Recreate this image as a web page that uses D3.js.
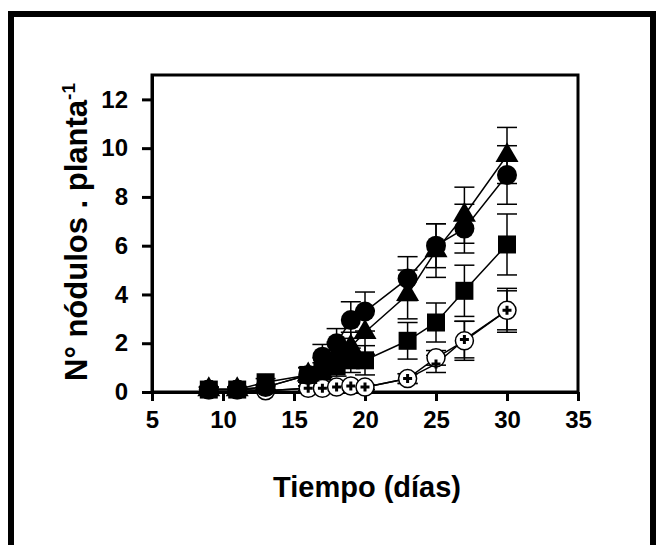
<!DOCTYPE html>
<html>
<head>
<meta charset="utf-8">
<script src="https://cdn.jsdelivr.net/npm/d3@7"></script>
<style>
  body { margin: 0; background: #fff; }
  svg { display: block; font-family: "Liberation Sans", Arial, sans-serif; }
</style>
</head>
<body>
<svg width="662" height="545"></svg>
<script>
// days of sampling
var days = [9, 11, 13, 16, 17, 18, 19, 20, 23, 25, 27, 30];

// series (mean and error bar half-length)
var circleMean = [0.1, 0.1, 0.2, 0.7, 1.45, 2.0, 2.95, 3.3, 4.65, 6.0, 6.7, 8.9];
var circleErr = [0.1, 0.1, 0.1, 0.3, 0.5, 0.6, 0.75, 0.8, 0.9, 0.9, 1.0, 1.2];
var triangleMean = [0.1, 0.1, 0.2, 0.7, 1.0, 1.55, 1.85, 2.45, 4.0, 5.8, 7.25, 9.7];
var triangleErr = [0.1, 0.1, 0.1, 0.3, 0.4, 0.5, 0.6, 0.9, 1.0, 1.1, 1.15, 1.15];
var squareMean = [0.1, 0.1, 0.4, 0.7, 0.85, 1.05, 1.3, 1.3, 2.1, 2.85, 4.15, 6.05];
var squareErr = [0.1, 0.1, 0.15, 0.3, 0.35, 0.4, 0.5, 0.6, 0.75, 0.8, 1.05, 1.25];
var openMean = [0.1, 0.1, 0.05, 0.15, 0.15, 0.2, 0.25, 0.2, 0.55, 1.4, 2.1, 3.35];
var openErr = [0, 0, 0.05, 0.1, 0.1, 0.1, 0.1, 0.1, 0.2, 0.3, 0.8, 0.8];
var plusMean = [0.1, 0.1, 0.05, 0.15, 0.15, 0.2, 0.25, 0.2, 0.55, 1.15, 2.15, 3.35];
var plusErr = [0, 0, 0.05, 0.1, 0.1, 0.1, 0.1, 0.1, 0.2, 0.35, 0.75, 0.9];

var xTicks = [5, 10, 15, 20, 25, 30, 35];
var yTicks = [0, 2, 4, 6, 8, 10, 12];

const PLOT_LEFT = 152;
const PLOT_RIGHT = 578;
const PLOT_TOP = 75;
const PLOT_BOTTOM = 392;

var svg = d3.select("svg");

// outer frame (top, left, right; open at the bottom)
svg.append("path")
  .attr("d", "M11,545 L11,14 L653,14 L653,545")
  .attr("fill", "none")
  .attr("stroke", "#000")
  .attr("stroke-width", 6);

var x = d3.scaleLinear().domain([5, 35]).range([PLOT_LEFT, PLOT_RIGHT]);
var y = d3.scaleLinear().domain([0, 13]).range([PLOT_BOTTOM, PLOT_TOP]);

// plot box
svg.append("rect")
  .attr("x", PLOT_LEFT)
  .attr("y", PLOT_TOP)
  .attr("width", PLOT_RIGHT - PLOT_LEFT)
  .attr("height", PLOT_BOTTOM - PLOT_TOP)
  .attr("fill", "none")
  .attr("stroke", "#000")
  .attr("stroke-width", 3);

var xAxis = d3.axisBottom(x).tickValues(xTicks).tickSize(9).tickPadding(10).tickSizeOuter(0);
var gx = svg.append("g")
  .attr("transform", "translate(0," + PLOT_BOTTOM + ")")
  .call(xAxis);

var yAxis = d3.axisLeft(y).tickValues(yTicks).tickSize(10).tickPadding(14).tickSizeOuter(0);
var gy = svg.append("g")
  .attr("transform", "translate(" + PLOT_LEFT + ",0)")
  .call(yAxis);

[gx, gy].forEach(function (g) {
  g.select(".domain").attr("stroke-width", 3);
  g.selectAll(".tick line").attr("stroke-width", 3);
  g.selectAll(".tick text")
    .attr("font-size", 24)
    .attr("font-weight", "bold")
    .attr("font-family", "Liberation Sans, Arial, sans-serif")
    .attr("fill", "#000");
});

// axis titles
svg.append("text")
  .attr("x", 367)
  .attr("y", 497)
  .attr("text-anchor", "middle")
  .attr("font-size", 29)
  .attr("font-weight", "bold")
  .text("Tiempo (días)");

var yl = svg.append("text")
  .attr("transform", "translate(87,232) rotate(-90)")
  .attr("text-anchor", "middle")
  .attr("font-size", 31)
  .attr("font-weight", "bold");
yl.append("tspan").text("N° nódulos . planta");
yl.append("tspan").attr("font-size", 19).attr("dy", -12).text("-1");

var plot = svg.append("g");

var series = [
  { mean: openMean, err: openErr, shape: "open" },
  { mean: plusMean, err: plusErr, shape: "plus" },
  { mean: squareMean, err: squareErr, shape: "square" },
  { mean: triangleMean, err: triangleErr, shape: "triangle" },
  { mean: circleMean, err: circleErr, shape: "circle" }
];

var line = d3.line()
  .x(function (d) { return x(d.day); })
  .y(function (d) { return y(d.v); });

// lines first
series.forEach(function (s) {
  var pts = days.map(function (d, i) { return { day: d, v: s.mean[i], e: s.err[i] }; });
  s.pts = pts;
  plot.append("path")
    .datum(pts)
    .attr("d", line)
    .attr("fill", "none")
    .attr("stroke", "#000")
    .attr("stroke-width", 1.5);
});

// error bars
series.forEach(function (s) {
  var g = plot.append("g").attr("stroke", "#000").attr("stroke-width", 1.5);
  s.pts.forEach(function (p) {
    if (p.e <= 0) return;
    var cx = x(p.day);
    g.append("line").attr("x1", cx).attr("x2", cx).attr("y1", y(p.v - p.e)).attr("y2", y(p.v + p.e));
    [p.v - p.e, p.v + p.e].forEach(function (v) {
      g.append("line").attr("x1", cx - 10).attr("x2", cx + 10).attr("y1", y(v)).attr("y2", y(v));
    });
  });
});

// markers
series.forEach(function (s) {
  var g = plot.append("g");
  s.pts.forEach(function (p) {
    var cx = x(p.day), cy = y(p.v);
    if (s.shape === "circle") {
      g.append("circle").attr("cx", cx).attr("cy", cy).attr("r", 10).attr("fill", "#000");
    } else if (s.shape === "square") {
      g.append("rect").attr("x", cx - 9).attr("y", cy - 9).attr("width", 18).attr("height", 18).attr("fill", "#000");
    } else if (s.shape === "triangle") {
      g.append("path").attr("d", d3.symbol(d3.symbolTriangle, 230)()).attr("transform", "translate(" + cx + "," + cy + ")").attr("fill", "#000");
    } else if (s.shape === "open") {
      g.append("circle").attr("cx", cx).attr("cy", cy).attr("r", 9).attr("fill", "#fff").attr("stroke", "#000").attr("stroke-width", 1.5);
    } else if (s.shape === "plus") {
      g.append("path").attr("d", "M" + (cx - 4.5) + "," + cy + "H" + (cx + 4.5) + "M" + cx + "," + (cy - 4.5) + "V" + (cy + 4.5))
        .attr("stroke", "#000").attr("stroke-width", 3);
    }
  });
});
</script>
</body>
</html>
